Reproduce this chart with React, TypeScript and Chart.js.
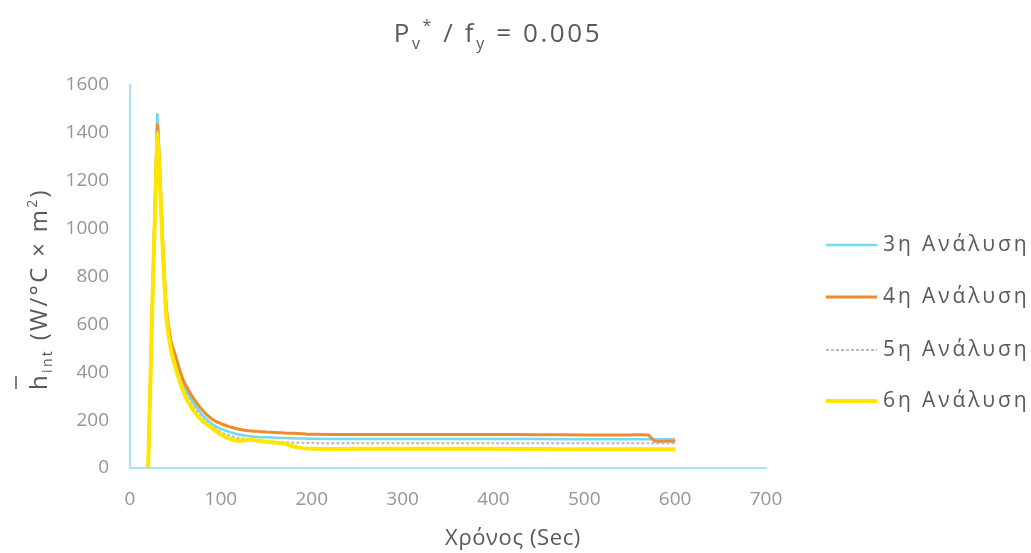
import React, { useEffect, useRef } from 'react';
import { Chart, registerables } from 'chart.js';

Chart.register(...registerables);

// ---- data ----
const TIME = [20, 30, 33, 36, 40, 45, 50, 55, 60, 70, 80, 90, 100, 110, 120, 130, 140, 150, 160, 170, 180, 190, 200, 250, 300, 350, 400, 450, 500, 550, 570, 578, 590, 600];
const H_3 = [0, 1475, 1250, 960, 665, 520, 455, 390, 340, 270, 220, 185, 163, 150, 140, 134, 130, 128, 126, 125, 124, 123, 122, 121, 121, 121, 121, 121, 120, 120, 120, 120, 120, 120];
const H_4 = [0, 1430, 1220, 950, 670, 530, 470, 405, 355, 290, 240, 205, 185, 172, 162, 156, 153, 150, 148, 146, 145, 143, 141, 140, 140, 140, 140, 139, 138, 138, 138, 112, 112, 112];
const H_5 = [0, 1410, 1200, 930, 650, 505, 440, 375, 320, 255, 205, 175, 150, 135, 125, 118, 115, 112, 110, 108, 106, 105, 104, 103, 103, 103, 103, 103, 103, 103, 103, 103, 103, 103];
const H_6 = [0, 1390, 1190, 910, 630, 495, 420, 360, 305, 240, 195, 168, 140, 122, 114, 118, 115, 110, 106, 102, 90, 83, 80, 80, 80, 80, 80, 79, 78, 78, 78, 78, 78, 78];
const SERIES = ['3η Ανάλυση', '4η Ανάλυση', '5η Ανάλυση', '6η Ανάλυση'];
const X_TICKS = [0, 100, 200, 300, 400, 500, 600, 700];
const Y_TICKS = [0, 200, 400, 600, 800, 1000, 1200, 1400, 1600];

const FONT = '"Open Sans", sans-serif';
const TEXT = '#595959';
const TICK = '#959595';
const AXIS = '#a9e5ef';

type Run = { t: string; size: number; dy?: number };

function drawRuns(ctx: CanvasRenderingContext2D, runs: Run[], x: number, y: number, ls: number) {
  (ctx as any).letterSpacing = ls + 'px';
  let w = 0;
  const widths: number[] = [];
  for (const r of runs) {
    ctx.font = `${r.size}px ${FONT}`;
    const m = ctx.measureText(r.t).width;
    widths.push(m);
    w += m;
  }
  let cx = x - w / 2;
  const starts: number[] = [];
  runs.forEach((r, i) => {
    ctx.font = `${r.size}px ${FONT}`;
    starts.push(cx);
    ctx.fillText(r.t, cx, y + (r.dy || 0));
    cx += widths[i];
  });
  return { starts, widths };
}

const textPlugin = {
  id: 'customTexts',
  afterDraw(chart: any) {
    const ctx: CanvasRenderingContext2D = chart.ctx;
    ctx.save();
    ctx.fillStyle = TEXT;
    ctx.textAlign = 'left';
    ctx.textBaseline = 'alphabetic';

    // title
    drawRuns(
      ctx,
      [
        { t: 'P', size: 26 },
        { t: 'v', size: 16, dy: 7 },
        { t: '*', size: 16, dy: -11 },
        { t: ' / f', size: 26 },
        { t: 'y', size: 16, dy: 7 },
        { t: ' = 0.005', size: 26 },
      ],
      498,
      42,
      2.6
    );

    // x axis title
    drawRuns(ctx, [{ t: 'Χρόνος (Sec)', size: 22 }], 513, 545, 0.6);

    // y axis title
    ctx.save();
    ctx.translate(47, 289);
    ctx.rotate(-Math.PI / 2);
    const res = drawRuns(
      ctx,
      [
        { t: 'h', size: 24 },
        { t: 'int', size: 14, dy: 5 },
        { t: ' (W/°C × m', size: 24 },
        { t: '2', size: 14, dy: -10 },
        { t: ')', size: 24 },
      ],
      0,
      0,
      2.3
    );
    ctx.strokeStyle = TEXT;
    ctx.lineWidth = 1.5;
    ctx.beginPath();
    ctx.moveTo(res.starts[0] + 1, -31);
    ctx.lineTo(res.starts[0] + res.widths[0] - 3, -31);
    ctx.stroke();
    ctx.restore();

    // legend
    const ys = [245, 297, 350, 401];
    chart.data.datasets.forEach((ds: any, i: number) => {
      const y = ys[i];
      ctx.save();
      ctx.strokeStyle = ds.borderColor;
      ctx.lineWidth = ds.borderWidth;
      ctx.setLineDash(ds.borderDash || []);
      ctx.beginPath();
      ctx.moveTo(826, y);
      ctx.lineTo(877, y);
      ctx.stroke();
      ctx.restore();
      (ctx as any).letterSpacing = '2.9px';
      ctx.font = `21px ${FONT}`;
      ctx.fillStyle = TEXT;
      ctx.textBaseline = 'middle';
      ctx.fillText(ds.label, 883, y);
    });
    ctx.restore();
  },
};

export default function App() {
  const ref = useRef<HTMLCanvasElement>(null);
  useEffect(() => {
    const mk = (ys: number[]) => TIME.map((x, i) => ({ x, y: ys[i] }));
    const common = { pointRadius: 0, fill: false, tension: 0.2 };
    const chart = new Chart(ref.current as HTMLCanvasElement, {
      type: 'line',
      data: {
        datasets: [
          { ...common, label: SERIES[0], data: mk(H_3), borderColor: '#72d9ef', borderWidth: 2.5, order: 3 },
          { ...common, label: SERIES[1], data: mk(H_4), borderColor: '#ef8a2d', borderWidth: 3, order: 2 },
          { ...common, label: SERIES[2], data: mk(H_5), borderColor: '#b9b9b9', borderWidth: 2, borderDash: [3, 2], order: 1 },
          { ...common, label: SERIES[3], data: mk(H_6), borderColor: '#ffe600', borderWidth: 4, order: 0 },
        ],
      },
      options: {
        responsive: false,
        animation: false,
        devicePixelRatio: 1,
        layout: { padding: { left: 0, right: 265, top: 85, bottom: 0 } },
        plugins: { legend: { display: false }, title: { display: false }, tooltip: { enabled: false } },
        scales: {
          x: {
            type: 'linear',
            min: 0,
            max: 700,
            afterBuildTicks: (s: any) => {
              s.ticks = X_TICKS.map((v) => ({ value: v }));
            },
            afterFit: (s: any) => {
              s.height = 85;
            },
            grid: { display: false, drawTicks: false },
            border: { display: true, color: AXIS, width: 2 },
            ticks: { color: TICK, font: { family: FONT, size: 19 }, padding: 20, callback: (v: any) => String(v) },
          },
          y: {
            type: 'linear',
            min: 0,
            max: 1600,
            afterBuildTicks: (s: any) => {
              s.ticks = Y_TICKS.map((v) => ({ value: v }));
            },
            afterFit: (s: any) => {
              s.width = 130;
            },
            grid: { display: false, drawTicks: false },
            border: { display: true, color: AXIS, width: 2 },
            ticks: { color: TICK, font: { family: FONT, size: 19 }, padding: 21, callback: (v: any) => String(v) },
          },
        },
      },
      plugins: [textPlugin],
    });
    return () => chart.destroy();
  }, []);
  return (
    <div style={{ position: 'fixed', left: 0, top: 0, width: 1031, height: 553, background: '#fff' }}>
      <canvas ref={ref} width={1031} height={553} style={{ display: 'block' }} />
    </div>
  );
}
